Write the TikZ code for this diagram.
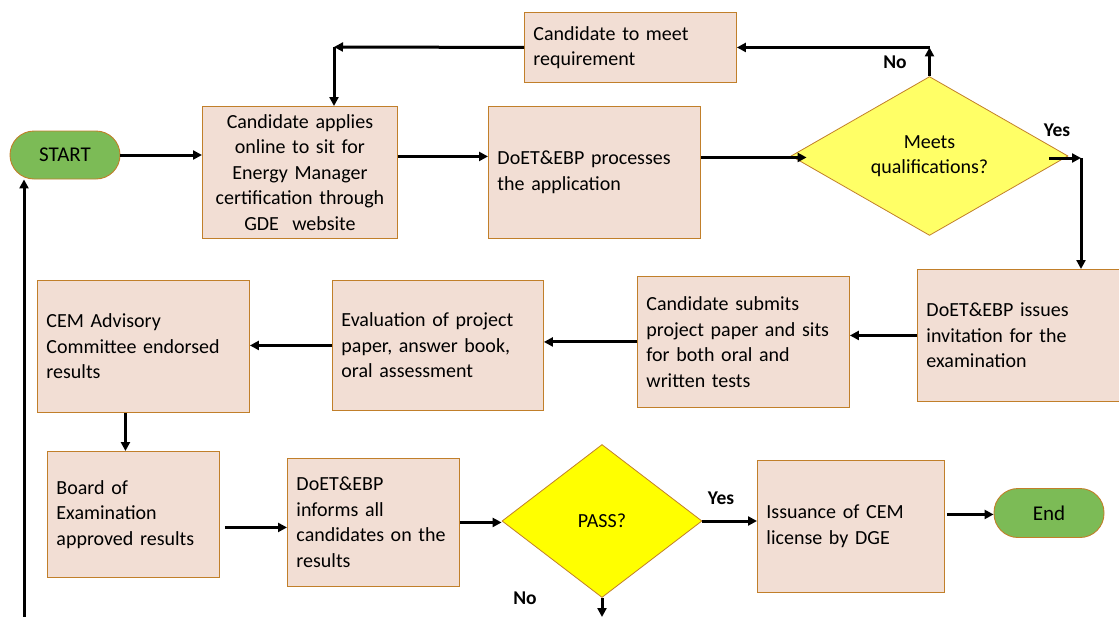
\documentclass[tikz,border=0pt]{standalone}
\usepackage{fontspec}
\setmainfont{Carlito}
\usetikzlibrary{shapes.geometric,arrows.meta}
\definecolor{boxfill}{HTML}{F2DED4}
\definecolor{brd}{HTML}{C17F2A}
\definecolor{grn}{HTML}{7CBB56}
\definecolor{ylwa}{HTML}{FFFF66}
\definecolor{ylwb}{HTML}{FFFF00}
\begin{document}
\begin{tikzpicture}[x=1pt,y=-1pt,
  box/.style={draw=brd, fill=boxfill, line width=0.9pt, anchor=north west, inner xsep=9pt, inner ysep=0pt, align=left, font=\fontsize{20}{25.5}\selectfont},
  term/.style={draw=brd, fill=grn, line width=0.9pt, rounded corners=24pt, minimum width=110pt, minimum height=48pt, font=\fontsize{21}{22}\selectfont},
  dec/.style={diamond, draw=brd, line width=0.8pt, inner sep=0pt, align=center, font=\fontsize{20}{25.5}\selectfont},
  arr/.style={line width=3pt, -{Triangle[length=9pt,width=9pt]}},
  lbl/.style={font=\bfseries\fontsize{19.5}{20}\selectfont}
]
\useasboundingbox (0,0) rectangle (1119,616);

% nodes
\node[term] (START) at (65,155) {START};
\node[box, align=center, text width=177pt, minimum height=132pt] (A) at (202,106) {Candidate applies\\online to sit for\\Energy Manager\\certification through\\GDE\ \ website};
\node[box, text width=194pt, minimum height=132pt] (B) at (488,106) {DoET\&EBP processes\\the application};
\node[dec, fill=ylwa, minimum width=277pt, minimum height=156pt] (D1) at (929.5,156) {Meets\\qualifications?};
\node[box, text width=194pt, minimum height=70pt] (C) at (524,12) {Candidate to meet\\requirement};
\node[box, text width=190pt, minimum height=132pt] (D) at (917,269) {DoET\&EBP issues\\invitation for the\\examination};
\node[box, text width=194pt, minimum height=131pt] (E) at (637,276) {Candidate submits\\project paper and sits\\for both oral and\\written tests};
\node[box, text width=193pt, minimum height=130pt] (F) at (332,280) {Evaluation of project\\paper, answer book,\\oral assessment};
\node[box, text width=194pt, minimum height=132pt] (G) at (37,280) {CEM Advisory\\Committee endorsed\\results};
\node[box, text width=154pt, minimum height=126pt] (H) at (47,451) {Board of\\Examination\\approved results};
\node[box, text width=154pt, minimum height=128pt] (I) at (287,458) {DoET\&EBP\\informs all\\candidates on the\\results};
\node[dec, fill=ylwb, minimum width=200pt, minimum height=153pt] (D2) at (602,521) {PASS?};
\node[box, text width=169pt, minimum height=132pt] (J) at (757,460) {Issuance of CEM\\license by DGE};
\node[term, minimum height=49pt] (END) at (1049,513) {End};

% helper coordinates
\coordinate (k1) at (334,47);
\coordinate (k2) at (1081,158);
\coordinate (k3) at (602,617);
\coordinate (k4) at (24,630);

% connectors
\draw[arr] (START.east) -- (START.east -| A.west);
\draw[arr] ([yshift=16pt]A.east) -- ([yshift=16pt]A.east -| B.west);
\draw[arr] ([yshift=15pt]B.east) -- ([xshift=16pt,yshift=15pt]B.east -| D1.west);
\draw[arr] (D1.north) -- (D1.north |- C.east);
\draw[arr] (D1.north |- C.east) -- (C.east);
\draw[arr] (C.west) -- (k1);
\draw[arr] (k1) -- (k1 |- A.north);
\draw[arr] ([xshift=-19pt,yshift=-2pt]D1.east) -- (k2);
\draw[arr] (k2) -- (k2 |- D.north);
\draw[arr] (D.west) -- (D.west -| E.east);
\draw[arr] (E.west) -- (E.west -| F.east);
\draw[arr] (F.west) -- (F.west -| G.east);
\draw[arr] ([xshift=-18pt]G.south) -- ([xshift=-18pt]G.south |- H.north);
\draw[arr] ([xshift=5pt,yshift=-13pt]H.east) -- ([yshift=-13pt]H.east -| I.west);
\draw[arr] (I.east) -- (I.east -| D2.west);
\draw[arr] (D2.east) -- (D2.east -| J.west);
\draw[arr] ([xshift=2pt,yshift=12pt]J.east) -- ([yshift=12pt]J.east -| END.west);
\draw[arr] (D2.south) -- (k3);
\draw[arr] (k4) -- (k4 |- START.south);

% labels
\node[lbl] (l1) at (895,62) {No};
\node[lbl] (l2) at (1057,130) {Yes};
\node[lbl] (l3) at (721,498) {Yes};
\node[lbl] (l4) at (525,598) {No};
\end{tikzpicture}
\end{document}
